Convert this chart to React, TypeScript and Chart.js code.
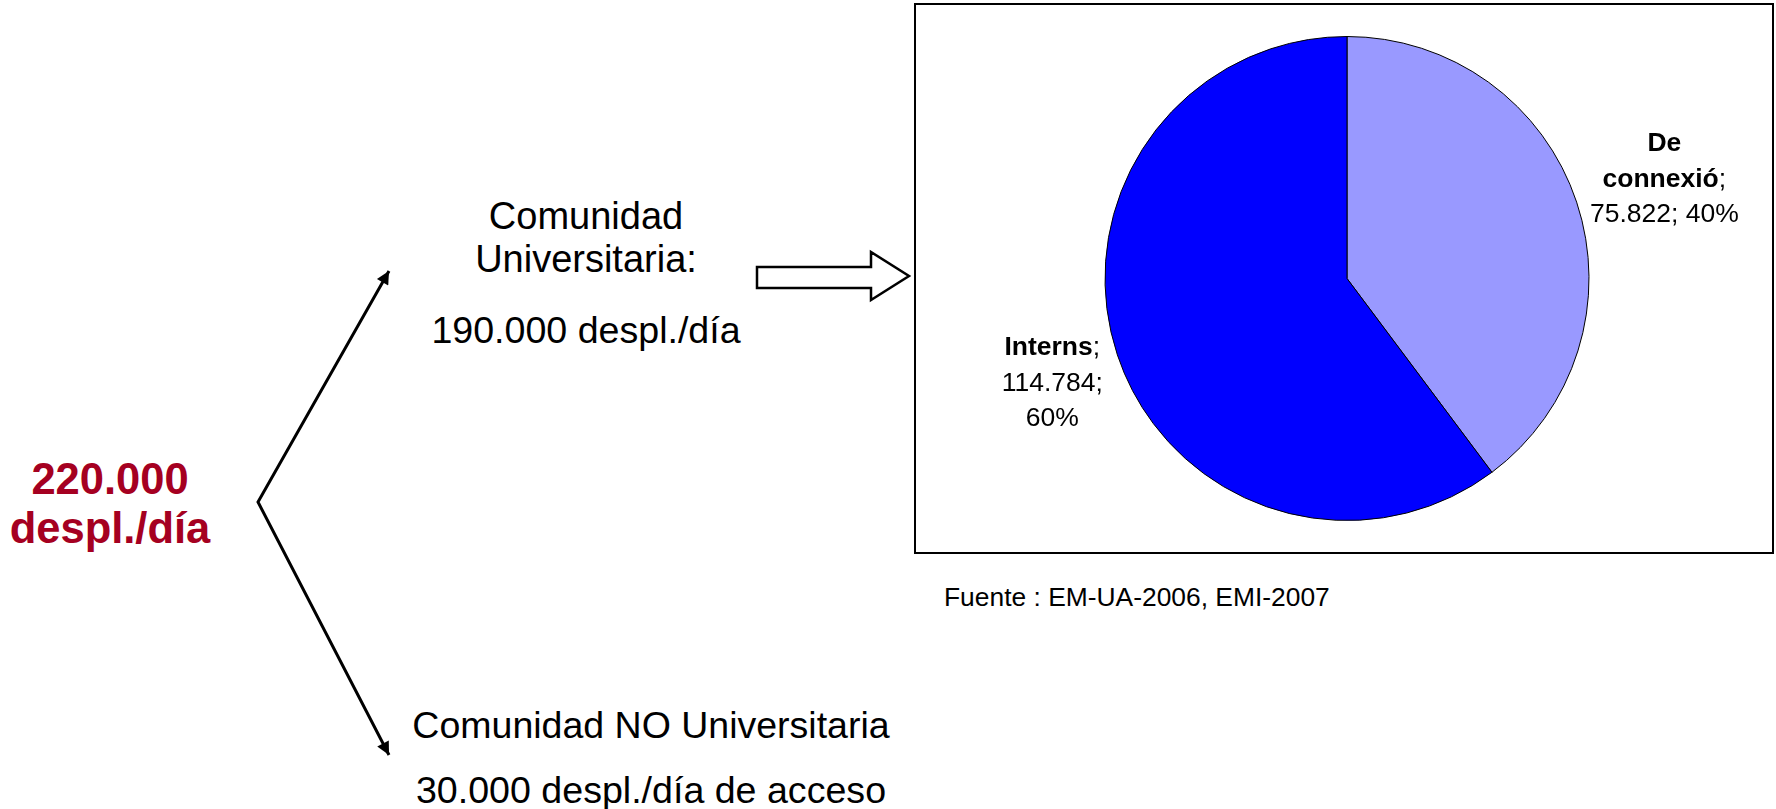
import React, { useEffect, useRef } from "react";
import { Chart, registerables } from "chart.js";

Chart.register(...registerables);

// ---- Data ----
const categories = ["De connexió", "Interns"];
const values = [75822, 114784];
const sliceColors = ["#9999FF", "#0000FF"];
// label line layout: **bold** = category name part; {v} value, {p} percent
const labelLines = [
  ["**De**", "**connexió**;", "{v}; {p}"],
  ["**Interns**;", "{v};", "{p}"],
];
const totalLines = ["220.000", "despl./día"];
const uniLines = ["Comunidad", "Universitaria:", "190.000 despl./día"];
const nonUniLines = ["Comunidad NO Universitaria", "30.000 despl./día de acceso"];
const sourceText = "Fuente : EM-UA-2006, EMI-2007";

const FONT = "'Liberation Sans', Arial, Helvetica, sans-serif";

const fmt = (v: number) => String(v).replace(/\B(?=(\d{3})+(?!\d))/g, ".");

const labelPlugin = {
  id: "outsideLabels",
  afterDatasetsDraw(chart: any) {
    const ctx = chart.ctx as CanvasRenderingContext2D;
    const meta = chart.getDatasetMeta(0);
    const data = chart.data.datasets[0].data as number[];
    const total = data.reduce((a, b) => a + b, 0);
    const size = 26.5;
    const lh = 35.5;
    const gap = 18;
    meta.data.forEach((arc: any, i: number) => {
      const { x, y, startAngle, endAngle, outerRadius } = arc.getProps(
        ["x", "y", "startAngle", "endAngle", "outerRadius"],
        true
      );
      const mid = (startAngle + endAngle) / 2;
      const dx = Math.cos(mid);
      const dy = Math.sin(mid);
      const v = data[i];
      const lines = labelLines[i].map((l) =>
        l.replace("{v}", fmt(v)).replace("{p}", Math.round((v / total) * 100) + "%")
      );
      const parsed = lines.map((l) =>
        l
          .split("**")
          .map((t, k) => ({ t, b: k % 2 === 1 }))
          .filter((s) => s.t.length > 0)
      );
      const fontOf = (b: boolean) => `${b ? "bold " : ""}${size}px ${FONT}`;
      const widths = parsed.map((segs) =>
        segs.reduce((w, s) => {
          ctx.font = fontOf(s.b);
          return w + ctx.measureText(s.t).width;
        }, 0)
      );
      const bw = Math.max(...widths);
      const bh = parsed.length * lh;
      const ax = x + (outerRadius + gap) * dx;
      const ay = y + (outerRadius + gap) * dy;
      const cx = ax + (bw / 2) * dx;
      const cy = ay + (bh / 2) * dy + 6 * Math.max(0, dy) / 0.309;
      ctx.save();
      ctx.fillStyle = "#000";
      ctx.textBaseline = "middle";
      ctx.textAlign = "left";
      parsed.forEach((segs, li) => {
        let sx = cx - widths[li] / 2;
        const ly = cy - bh / 2 + lh * (li + 0.5);
        segs.forEach((s) => {
          ctx.font = fontOf(s.b);
          ctx.fillText(s.t, sx, ly);
          sx += ctx.measureText(s.t).width;
        });
      });
      ctx.restore();
    });
  },
};

function PieChart() {
  const ref = useRef<HTMLCanvasElement | null>(null);
  useEffect(() => {
    if (!ref.current) return;
    const chart = new Chart(ref.current, {
      type: "pie",
      data: {
        labels: categories,
        datasets: [
          {
            data: values,
            backgroundColor: sliceColors,
            borderColor: "#000",
            borderWidth: 1,
          },
        ],
      },
      options: {
        responsive: false,
        animation: false,
        layout: { padding: { top: 31, bottom: 31, left: 6, right: 0 } },
        plugins: {
          legend: { display: false },
          tooltip: { enabled: false },
        },
      },
      plugins: [labelPlugin],
    } as any);
    return () => chart.destroy();
  }, []);
  return <canvas ref={ref} width={856} height={547} style={{ display: "block" }} />;
}

export default function App() {
  const textStyle = { fontFamily: FONT };
  return (
    <div
      style={{
        position: "fixed",
        left: 0,
        top: 0,
        width: 1776,
        height: 809,
        background: "#fff",
        overflow: "hidden",
      }}
    >
      <svg
        width={1776}
        height={809}
        style={{ position: "absolute", left: 0, top: 0 }}
      >
        <defs>
          <marker
            id="ah"
            viewBox="0 0 10 10"
            refX={10}
            refY={5}
            markerUnits="userSpaceOnUse"
            markerWidth={16}
            markerHeight={13}
            orient="auto-start-reverse"
          >
            <path d="M0,0 L10,5 L0,10 z" fill="#000" />
          </marker>
        </defs>
        <polyline
          points="389,271 258,502 389,755"
          fill="none"
          stroke="#000"
          strokeWidth={3}
          markerStart="url(#ah)"
          markerEnd="url(#ah)"
        />
        <polygon
          points="757,267 871,267 871,252 909,276 871,300 871,288 757,288"
          fill="#fff"
          stroke="#000"
          strokeWidth={2.5}
          strokeLinejoin="miter"
        />
        <g style={textStyle} fill="#A50021" fontWeight="bold" fontSize={43.5} textAnchor="middle">
          <text x={110} y={494}>{totalLines[0]}</text>
          <text x={110} y={543}>{totalLines[1]}</text>
        </g>
        <g style={textStyle} fill="#000" fontSize={38} textAnchor="middle">
          <text x={586} y={229}>{uniLines[0]}</text>
          <text x={586} y={272}>{uniLines[1]}</text>
          <text x={586} y={343} fontSize={37.6}>{uniLines[2]}</text>
          <text x={651} y={738} fontSize={37.5}>{nonUniLines[0]}</text>
          <text x={651} y={803} fontSize={37.6}>{nonUniLines[1]}</text>
        </g>
        <text x={944} y={606} style={textStyle} fill="#000" fontSize={26.4}>
          {sourceText}
        </text>
      </svg>
      <div
        style={{
          position: "absolute",
          left: 914,
          top: 3,
          width: 860,
          height: 551,
          boxSizing: "border-box",
          border: "2px solid #000",
          background: "#fff",
        }}
      >
        <PieChart />
      </div>
    </div>
  );
}
